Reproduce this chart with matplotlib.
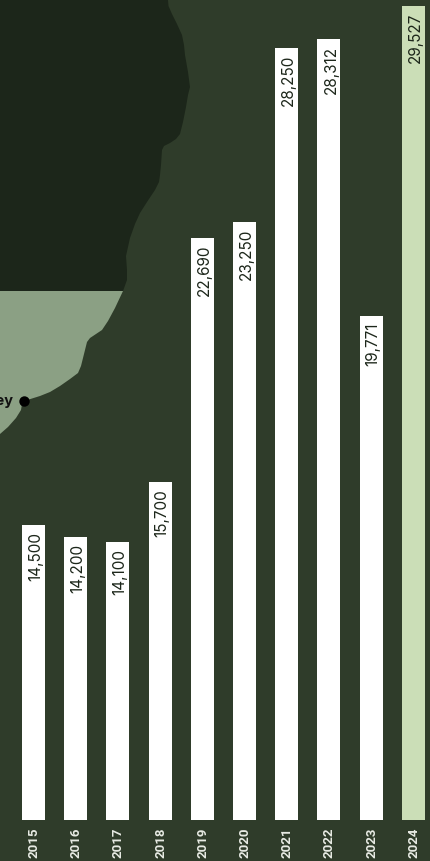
import matplotlib
matplotlib.use("Agg")
import matplotlib.pyplot as plt
from matplotlib.patches import Polygon

# colours
bg = "#2f3c2a"
land_dark = "#1c261a"
land_light = "#8ba084"
highlight = "#cbdeb7"

years = ["2015", "2016", "2017", "2018", "2019", "2020", "2021", "2022", "2023", "2024"]
labels = ["14,500", "14,200", "14,100", "15,700", "22,690", "23,250", "28,250", "28,312", "19,771", "29,527"]
# bars are not to scale with their labels, so lengths are read off the picture
bar_lengths = [295, 283, 278, 338, 582, 598, 772, 781, 504, 814]

# map outline, in picture pixels
coast_dark = [(168, 0), (168.5, 6), (172, 14), (177, 24), (182, 35), (184, 45), (185, 55),
              (188, 72), (190, 87), (188, 95), (186, 107), (183, 122), (180, 134), (176, 139),
              (170, 143), (164, 146), (162, 150), (161, 165), (160, 175), (159, 182), (155, 190),
              (147, 202), (140, 213), (135, 224), (130, 238), (126, 256), (127, 270), (127, 280),
              (123, 291)]
coast_light = [(123, 291), (115, 308), (108, 321), (102, 330), (96, 334), (90, 338), (87, 342),
               (85, 350), (81, 366), (78, 373), (70, 379), (60, 386), (50, 392), (40, 396),
               (24, 401), (22, 404), (21, 410), (16, 418), (8, 427), (0, 434)]

fig = plt.figure(figsize=(4.30, 8.61), dpi=100, facecolor=bg)

# map underneath
map_ax = fig.add_axes([0, 0, 1, 1], zorder=0)
map_ax.set_xlim(0, 430)
map_ax.set_ylim(861, 0)
map_ax.axis("off")
map_ax.add_patch(Polygon([(0, 0)] + coast_dark + [(0, 291)], closed=True, fc=land_dark, ec="none"))
map_ax.add_patch(Polygon([(0, 291)] + coast_light, closed=True, fc=land_light, ec="none"))
map_ax.plot([24], [401], "o", color="black", ms=7.5, mew=0)
map_ax.text(13, 401, "Sydney", ha="right", va="center", family="Inter", weight="bold",
            fontsize=10.5, color="#111111")

# bars on top
ax = fig.add_axes([0, 0, 1, 1], zorder=1)
ax.patch.set_alpha(0)
ax.set_xlim(-33.5 / 42.2, (430 - 33.5) / 42.2)
ax.set_ylim(-41, 820)
ax.axis("off")
colors = ["white"] * 9 + [highlight]
ax.bar(range(len(years)), bar_lengths, width=0.545, color=colors)

for i, (h, lab) in enumerate(zip(bar_lengths, labels)):
    ax.annotate(lab, (i, h), xytext=(2, -7), textcoords="offset pixels", rotation=90,
                ha="center", va="top", family="Inter", fontsize=11, color="#1c261a")
    ax.annotate(years[i], (i, 0), xytext=(0.5, -38.5), textcoords="offset pixels", rotation=90,
                ha="center", va="bottom", family="Roboto", weight="bold", fontsize=9.5, color="#e8ebe4")

fig.savefig("out.png", dpi=100, facecolor=bg)
